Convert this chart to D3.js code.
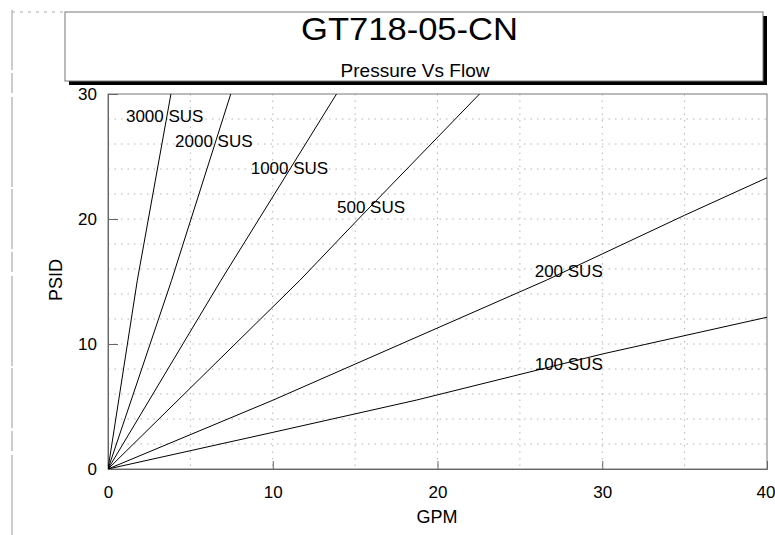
<!DOCTYPE html>
<html><head><meta charset="utf-8">
<script src="https://cdn.jsdelivr.net/npm/d3@7"></script>
<style>body{margin:0;background:#fff}svg{display:block}text{font-family:"Liberation Sans",Arial,sans-serif;fill:#000}</style>
</head><body><svg id="c" width="775" height="535"></svg>
<script>
const titleText = "GT718-05-CN";
const subtitleText = "Pressure Vs Flow";
const xLabel = "GPM";
const yLabel = "PSID";
const xTicks = [0, 10, 20, 30, 40];
const yTicks = [0, 10, 20, 30];
const xGrid = [5, 10, 15, 20, 25, 30, 35];
const yGrid = [2,4,6,8,10,12,14,16,18,20,22,24,26,28];
const seriesNames = ["3000 SUS","2000 SUS","1000 SUS","500 SUS","200 SUS","100 SUS"];
const s3000 = [[0,0],[1.78,15.1],[3.82,30]];
const s2000 = [[0,0],[3.86,15.1],[7.45,30]];
const s1000 = [[0,0],[6.86,15.1],[13.87,30]];
const s500  = [[0,0],[11.65,15.1],[15.2,20],[22.55,30]];
const s200  = [[0,0],[10,5.5],[26.6,15.1],[35,20.3],[40,23.3]];
const s100  = [[0,0],[10,2.93],[18.74,5.52],[30,9.2],[40,12.14]];
const labelAt = [[1.09,27.8],[4.07,25.8],[8.66,23.6],[13.9,20.45],[25.9,15.4],[25.9,7.92]];

const series = [s3000,s2000,s1000,s500,s200,s100];
const svg = d3.select("#c");
const L=108, R=767, T=94, B=469;
const x = d3.scaleLinear().domain([0,40]).range([L,R]);
const y = d3.scaleLinear().domain([0,30]).range([B,T]);

// outer scan border
svg.append("line").attr("x1",12).attr("x2",12).attr("y1",10).attr("y2",535)
  .attr("stroke","#999").attr("stroke-width",1).attr("stroke-dasharray","60,3,20,4,90,2");
svg.append("line").attr("x1",12).attr("x2",65).attr("y1",12).attr("y2",12)
  .attr("stroke","#aaa").attr("stroke-dasharray","3,5");

// title box with shadow
svg.append("rect").attr("x",69).attr("y",16).attr("width",698).attr("height",69).attr("fill","#000");
svg.append("rect").attr("x",65).attr("y",12).attr("width",698).attr("height",69)
  .attr("fill","#fff").attr("stroke","#777").attr("stroke-width",1);
svg.append("text").attr("x",409.5).attr("y",40).attr("text-anchor","middle")
  .attr("font-size",32).attr("textLength",217).attr("lengthAdjust","spacingAndGlyphs").text(titleText);
svg.append("text").attr("x",415).attr("y",77).attr("text-anchor","middle")
  .attr("font-size",19).text(subtitleText);

// grid
const g = svg.append("g");
g.selectAll(".hg").data(yGrid).join("line")
  .attr("x1",L).attr("x2",R).attr("y1",d=>y(d)).attr("y2",d=>y(d))
  .attr("stroke","#b4b4b4").attr("stroke-width",1).attr("stroke-dasharray","1.5,5");
g.selectAll(".vg").data(xGrid).join("line")
  .attr("y1",T).attr("y2",B).attr("x1",d=>x(d)).attr("x2",d=>x(d))
  .attr("stroke","#b4b4b4").attr("stroke-width",1).attr("stroke-dasharray","1.5,5");

// frame
svg.append("rect").attr("x",L).attr("y",T).attr("width",R-L).attr("height",B-T)
  .attr("fill","none").attr("stroke","#777").attr("stroke-width",1);

// axes
const xAxis = d3.axisBottom(x).tickValues(xTicks).tickSize(-8).tickPadding(17).tickFormat(d3.format("d"));
const yAxis = d3.axisLeft(y).tickValues(yTicks).tickSize(-10).tickPadding(21).tickFormat(d3.format("d"));
const gx = svg.append("g").attr("transform",`translate(0,${B})`).call(xAxis);
const gy = svg.append("g").attr("transform",`translate(${L},0)`).call(yAxis);
[gx,gy].forEach(a=>{
  a.select(".domain").attr("stroke","#666");
  a.selectAll(".tick line").attr("stroke","#666");
  a.selectAll(".tick text").attr("font-size",17).attr("font-family","Liberation Sans, Arial, sans-serif").attr("fill","#000");
});
gy.selectAll(".tick text").attr("dx","10");
gx.selectAll(".tick text").filter(d=>d===40).attr("dx","-1.5");

svg.append("text").attr("x",437).attr("y",523).attr("text-anchor","middle").attr("font-size",18).text(xLabel);
svg.append("text").attr("transform","translate(62,280) rotate(-90)").attr("text-anchor","middle").attr("font-size",18).text(yLabel);

// curves
svg.append("clipPath").attr("id","clip").append("rect").attr("x",L).attr("y",T).attr("width",R-L).attr("height",B-T);
const line = d3.line().x(d=>x(d[0])).y(d=>y(d[1]));
svg.append("g").attr("clip-path","url(#clip)").selectAll("path").data(series).join("path")
  .attr("d",line).attr("fill","none").attr("stroke","#000").attr("stroke-width",1);

svg.selectAll(".lbl").data(seriesNames).join("text")
  .attr("x",(d,i)=>x(labelAt[i][0])).attr("y",(d,i)=>y(labelAt[i][1]))
  .attr("font-size",17).text(d=>d);
</script></body></html>
